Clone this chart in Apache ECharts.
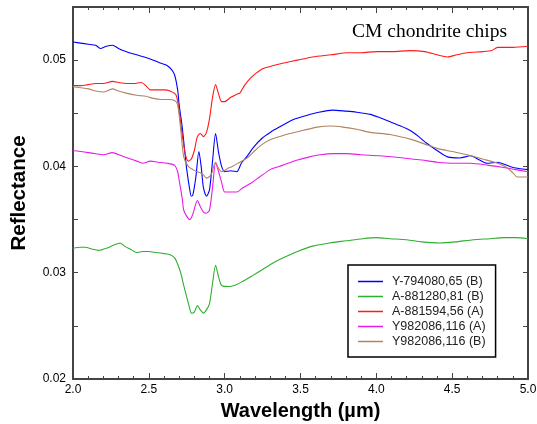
<!DOCTYPE html>
<html><head><meta charset="utf-8">
<script src="https://cdn.jsdelivr.net/npm/echarts@6/dist/echarts.min.js"></script>
<style>html,body{margin:0;padding:0;background:#fff}#c{width:537px;height:424px}</style>
</head><body><div id="c"></div>
<script>
var names = ['Y-794080,65 (B)','A-881280,81 (B)','A-881594,56 (A)','Y982086,116 (A)','Y982086,116 (B)'];
var colors = ['#0000ff','#2fae2f','#ff1a1a','#e81ce8','#b08464'];
var xTicks = [2.0,2.5,3.0,3.5,4.0,4.5,5.0];
var yTicks = [0.02,0.03,0.04,0.05];

var blueX = [2.00,2.05,2.10,2.15,2.18,2.22,2.26,2.30,2.33,2.37,2.42,2.47,2.53,2.58,2.62,2.65,2.67,2.69,2.70,2.72,2.74,2.75,2.77,2.78,2.79,2.81,2.83,2.845,2.86,2.88,2.90,2.92,2.94,2.96,2.98,3.00,3.04,3.08,3.11,3.15,3.19,3.25,3.30,3.36,3.45,3.54,3.62,3.71,3.80,3.87,3.96,4.02,4.09,4.16,4.22,4.28,4.33,4.40,4.47,4.55,4.62,4.68,4.73,4.80,4.88,4.94,5.00];
var blueY = [0.0517,0.0516,0.0515,0.0514,0.0511,0.0513,0.0514,0.0511,0.0509,0.0507,0.0505,0.0503,0.0500,0.0497,0.0495,0.0491,0.0486,0.0472,0.0458,0.0437,0.0410,0.0397,0.0378,0.0372,0.0373,0.0390,0.0414,0.0400,0.0380,0.0372,0.0378,0.0405,0.0431,0.0413,0.0400,0.0395,0.0396,0.0395,0.0403,0.0410,0.0418,0.0427,0.0432,0.0437,0.0444,0.0448,0.0451,0.0453,0.0452,0.0451,0.0449,0.0446,0.0442,0.0438,0.0434,0.0428,0.0422,0.0415,0.0409,0.0408,0.0410,0.0406,0.0403,0.0404,0.0400,0.0398,0.0397];

var greenX = [2.00,2.05,2.08,2.13,2.17,2.22,2.27,2.31,2.34,2.38,2.42,2.46,2.50,2.55,2.60,2.64,2.67,2.69,2.71,2.73,2.75,2.77,2.78,2.80,2.82,2.84,2.86,2.88,2.90,2.92,2.94,2.96,2.98,3.03,3.08,3.12,3.18,3.25,3.33,3.40,3.48,3.58,3.69,3.80,3.91,4.00,4.09,4.20,4.30,4.42,4.52,4.64,4.75,4.84,4.92,5.00];
var greenY = [0.0323,0.0324,0.0324,0.0322,0.0321,0.0323,0.0326,0.0328,0.0325,0.0322,0.0319,0.0320,0.0320,0.0319,0.0318,0.0317,0.0314,0.0308,0.0300,0.0288,0.0277,0.0266,0.0262,0.0263,0.0269,0.0265,0.0262,0.0265,0.0271,0.0290,0.0307,0.0296,0.0288,0.0287,0.0289,0.0292,0.0297,0.0303,0.0310,0.0315,0.0320,0.0325,0.0328,0.0330,0.0332,0.0333,0.0332,0.0331,0.0329,0.0328,0.0329,0.0331,0.0332,0.0333,0.0333,0.0332];

var redX = [2.00,2.05,2.10,2.15,2.20,2.26,2.30,2.35,2.40,2.45,2.48,2.51,2.56,2.60,2.64,2.68,2.70,2.72,2.74,2.76,2.78,2.80,2.82,2.84,2.86,2.88,2.90,2.92,2.94,2.96,2.98,3.00,3.04,3.08,3.10,3.13,3.17,3.21,3.25,3.30,3.38,3.48,3.58,3.70,3.81,3.90,4.00,4.10,4.22,4.32,4.40,4.47,4.53,4.60,4.70,4.76,4.80,4.90,5.00];
var redY = [0.0476,0.0476,0.0477,0.0478,0.0478,0.0480,0.0479,0.0478,0.0478,0.0479,0.0476,0.0472,0.0472,0.0472,0.0471,0.0467,0.0452,0.0430,0.0412,0.0405,0.0407,0.0415,0.0428,0.0431,0.0428,0.0432,0.0445,0.0465,0.0477,0.0468,0.0461,0.0461,0.0465,0.0468,0.0469,0.0476,0.0483,0.0488,0.0492,0.0494,0.0497,0.0500,0.0503,0.0505,0.0507,0.0507,0.0508,0.0508,0.0509,0.0508,0.0505,0.0503,0.0505,0.0507,0.0508,0.0509,0.0512,0.0512,0.0513];

var magentaX = [2.00,2.05,2.10,2.15,2.20,2.26,2.32,2.38,2.42,2.46,2.51,2.56,2.62,2.67,2.69,2.70,2.72,2.73,2.75,2.77,2.79,2.82,2.84,2.86,2.88,2.90,2.92,2.94,2.96,2.98,3.00,3.04,3.08,3.12,3.17,3.23,3.30,3.38,3.48,3.56,3.63,3.72,3.81,3.90,4.02,4.18,4.30,4.40,4.52,4.62,4.74,4.84,4.92,5.00];
var magentaY = [0.0415,0.0414,0.0413,0.0412,0.0411,0.0413,0.0410,0.0407,0.0405,0.0403,0.0405,0.0404,0.0403,0.0401,0.0395,0.0387,0.0370,0.0359,0.0353,0.0350,0.0355,0.0368,0.0362,0.0357,0.0356,0.0359,0.0380,0.0404,0.0395,0.0385,0.0376,0.0376,0.0376,0.0380,0.0384,0.0390,0.0397,0.0401,0.0406,0.0409,0.0411,0.0412,0.0412,0.0411,0.0410,0.0408,0.0406,0.0404,0.0403,0.0403,0.0401,0.0399,0.0397,0.0395];

var brownX = [2.00,2.05,2.10,2.15,2.20,2.26,2.30,2.35,2.42,2.48,2.53,2.58,2.63,2.67,2.69,2.71,2.73,2.76,2.79,2.82,2.84,2.86,2.88,2.91,2.94,2.96,2.98,3.02,3.05,3.10,3.15,3.20,3.25,3.30,3.36,3.43,3.52,3.61,3.70,3.78,3.87,3.96,4.09,4.24,4.32,4.40,4.50,4.60,4.70,4.80,4.86,4.90,4.93,5.00];
var brownY = [0.0475,0.0474,0.0473,0.0471,0.0470,0.0473,0.0471,0.0469,0.0467,0.0466,0.0464,0.0463,0.0463,0.0462,0.0458,0.0435,0.0409,0.0400,0.0397,0.0395,0.0394,0.0392,0.0389,0.0392,0.0404,0.0398,0.0395,0.0398,0.0400,0.0404,0.0408,0.0415,0.0421,0.0425,0.0428,0.0431,0.0434,0.0437,0.0438,0.0437,0.0435,0.0432,0.0430,0.0425,0.0421,0.0417,0.0414,0.0411,0.0407,0.0403,0.0399,0.0394,0.0390,0.0390];

var seriesX = [blueX, greenX, redX, magentaX, brownX];
var seriesY = [blueY, greenY, redY, magentaY, brownY];

function pairs(xs, ys){ return xs.map(function(x,i){ return [x, ys[i]]; }); }

var font = 'Liberation Sans, Arial, sans-serif';
var frame = '#444';
function isTick(v, list){ return list.some(function(t){ return Math.abs(t - v) < 1e-9; }); }

var chart = echarts.init(document.getElementById('c'));
chart.setOption({
  animation: false,
  backgroundColor: '#fff',
  title: { text: 'CM chondrite chips', right: 30, top: 22, padding: 0,
    textStyle: { fontFamily: 'Liberation Serif, Times New Roman, serif', fontSize: 19.5, fontWeight: 'normal', color: '#000' } },
  legend: {
    orient: 'vertical', left: 348, top: 265,
    data: names.map(function(n){ return { name: n, icon: 'rect' }; }),
    borderColor: '#000', borderWidth: 1.5, padding: [10, 10, 9, 10],
    itemWidth: 25, itemHeight: 1.5, itemGap: 2,
    textStyle: { fontFamily: font, fontSize: 12.5, color: '#222', padding: [0, 0, 0, 4] }
  },
  grid: { left: 73, right: 9, top: 7, bottom: 45, containLabel: false, outerBoundsMode: 'none' },
  xAxis: [{
    type: 'value', min: 2, max: 5, interval: 0.5, position: 'bottom',
    name: 'Wavelength (\u00b5m)', nameLocation: 'middle', nameGap: 22,
    nameTextStyle: { fontFamily: font, fontSize: 20, fontWeight: 'bold', color: '#000' },
    axisLine: { show: true, onZero: false, lineStyle: { color: frame, width: 2 } },
    axisTick: { inside: true, length: 6, lineStyle: { color: frame } },
    minorTick: { show: true, splitNumber: 5, length: 3, lineStyle: { color: frame } },
    splitLine: { show: false },
    axisLabel: { fontFamily: font, fontSize: 12, color: '#000', margin: 5,
      formatter: function(v){ return isTick(v, xTicks) ? v.toFixed(1) : ''; } }
  }, {
    type: 'value', min: 2, max: 5, interval: 0.5, position: 'top',
    axisLine: { show: true, onZero: false, lineStyle: { color: frame, width: 2 } },
    axisTick: { inside: true, length: 6, lineStyle: { color: frame } },
    minorTick: { show: true, splitNumber: 5, length: 3, lineStyle: { color: frame } },
    splitLine: { show: false }, axisLabel: { show: false }
  }],
  yAxis: [{
    type: 'value', min: 0.02, max: 0.055, interval: 0.005, position: 'left',
    name: 'Reflectance', nameLocation: 'middle', nameGap: 43,
    nameTextStyle: { fontFamily: font, fontSize: 20.5, fontWeight: 'bold', color: '#000' },
    axisLine: { show: true, onZero: false, lineStyle: { color: frame, width: 2 } },
    axisTick: { inside: true, length: 5, lineStyle: { color: frame } },
    splitLine: { show: false },
    axisLabel: { fontFamily: font, fontSize: 12, color: '#000', margin: 7,
      formatter: function(v){ return isTick(v, yTicks) ? v.toFixed(2) : ''; } }
  }, {
    type: 'value', min: 0.02, max: 0.055, interval: 0.005, position: 'right',
    axisLine: { show: true, onZero: false, lineStyle: { color: frame, width: 2 } },
    axisTick: { inside: true, length: 5, lineStyle: { color: frame } },
    splitLine: { show: false }, axisLabel: { show: false }
  }],
  series: names.map(function(n, i){
    return { name: n, type: 'line', xAxisIndex: 0, yAxisIndex: 0, symbol: 'none', smooth: 0.25,
      data: pairs(seriesX[i], seriesY[i]), color: colors[i],
      lineStyle: { width: 1.1, color: colors[i] } };
  })
});
</script></body></html>
